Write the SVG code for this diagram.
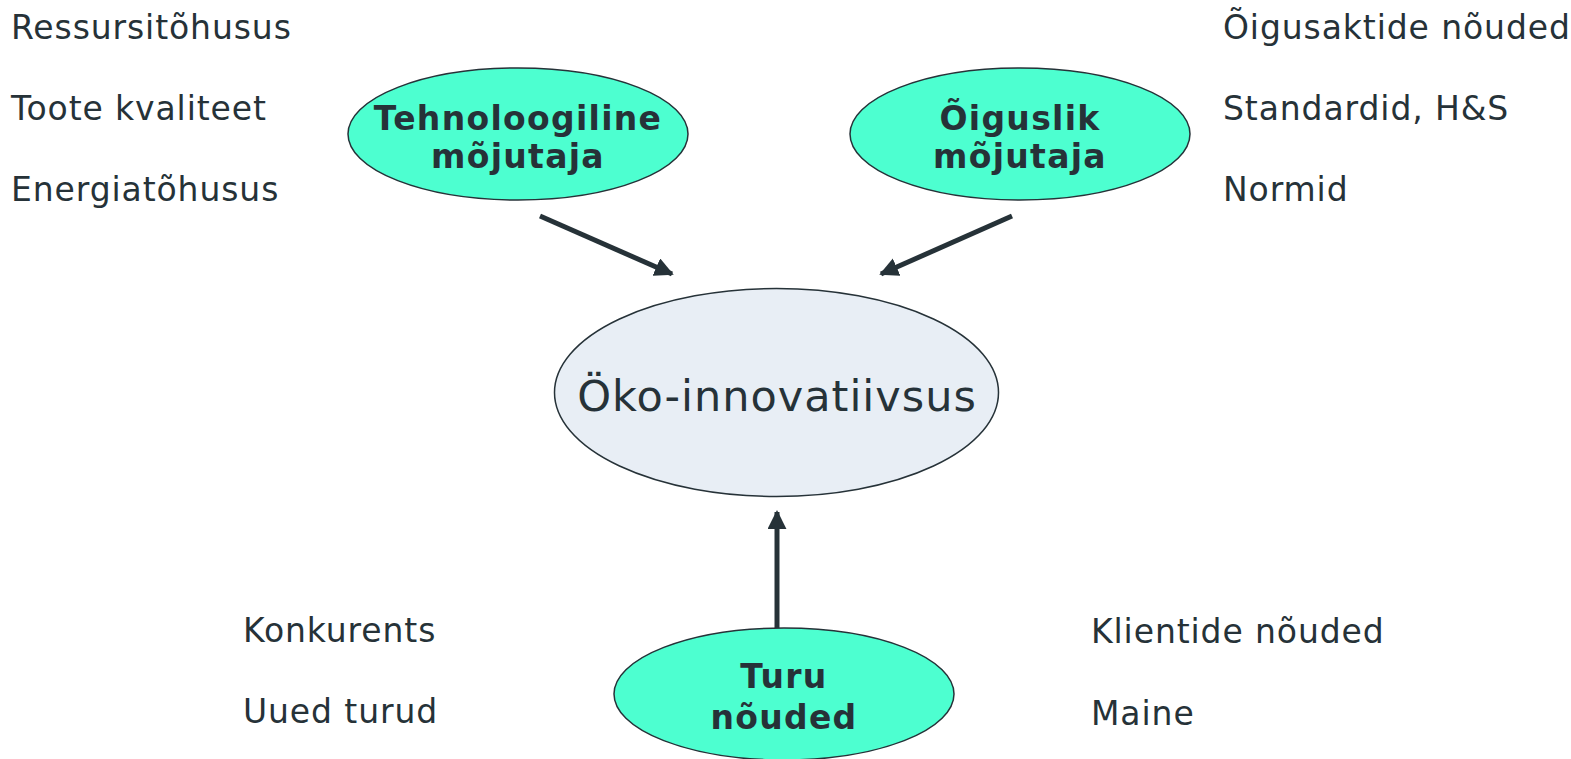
<svg xmlns="http://www.w3.org/2000/svg" width="1571" height="759" viewBox="0 0 1571 759">
<style>
.t{font-family:"DejaVu Sans","Verdana",sans-serif;font-size:33px;letter-spacing:0.9px;fill:#263238}
.b{font-family:"DejaVu Sans","Verdana",sans-serif;font-size:33px;letter-spacing:1.3px;font-weight:bold;fill:#263238;text-anchor:middle}
.g{fill:#4dffd0;stroke:#263238;stroke-width:1.5}
.c{fill:#e8eef5;stroke:#263238;stroke-width:1.5}
.a{stroke:#263238;stroke-width:5;fill:none;marker-end:url(#ah)}
</style>
<defs>
<marker id="ah" viewBox="0 0 10 10" refX="9" refY="5" markerWidth="3.8" markerHeight="3.8" orient="auto" markerUnits="strokeWidth">
<path d="M0,0 L10,5 L0,10 z" fill="#263238"/>
</marker>
</defs>
<rect width="1571" height="759" fill="#ffffff"/>
<g id="labels">
<text class="t" x="11" y="39">Ressursitõhusus</text>
<text class="t" x="11" y="120">Toote kvaliteet</text>
<text class="t" x="11" y="201">Energiatõhusus</text>
<text class="t" x="1223" y="39">Õigusaktide nõuded</text>
<text class="t" x="1223" y="120">Standardid, H&amp;S</text>
<text class="t" x="1223" y="201">Normid</text>
<text class="t" x="243" y="642">Konkurents</text>
<text class="t" x="243" y="723">Uued turud</text>
<text class="t" x="1091" y="643">Klientide nõuded</text>
<text class="t" x="1091" y="725">Maine</text>
</g>
<g id="connectors">
<line class="a" x1="540" y1="216" x2="672" y2="274"/>
<line class="a" x1="1012" y1="216" x2="881" y2="274"/>
<line class="a" x1="777" y1="628" x2="777" y2="512"/>
</g>
<g id="tech">
<ellipse class="g" cx="518" cy="134" rx="170" ry="66"/>
<text class="b" x="518" y="130">Tehnoloogiline</text>
<text class="b" x="518" y="168">mõjutaja</text>
</g>
<g id="legal">
<ellipse class="g" cx="1020" cy="134" rx="170" ry="66"/>
<text class="b" x="1020" y="130">Õiguslik</text>
<text class="b" x="1020" y="168">mõjutaja</text>
</g>
<g id="eco">
<ellipse class="c" cx="776.5" cy="392.5" rx="222" ry="104"/>
<text class="t" x="777" y="411" style="font-size:43px;letter-spacing:1px;text-anchor:middle">Öko-innovatiivsus</text>
</g>
<g id="market">
<ellipse class="g" cx="784" cy="694" rx="170" ry="66"/>
<text class="b" x="784" y="688">Turu</text>
<text class="b" x="784" y="729">nõuded</text>
</g>
</svg>
